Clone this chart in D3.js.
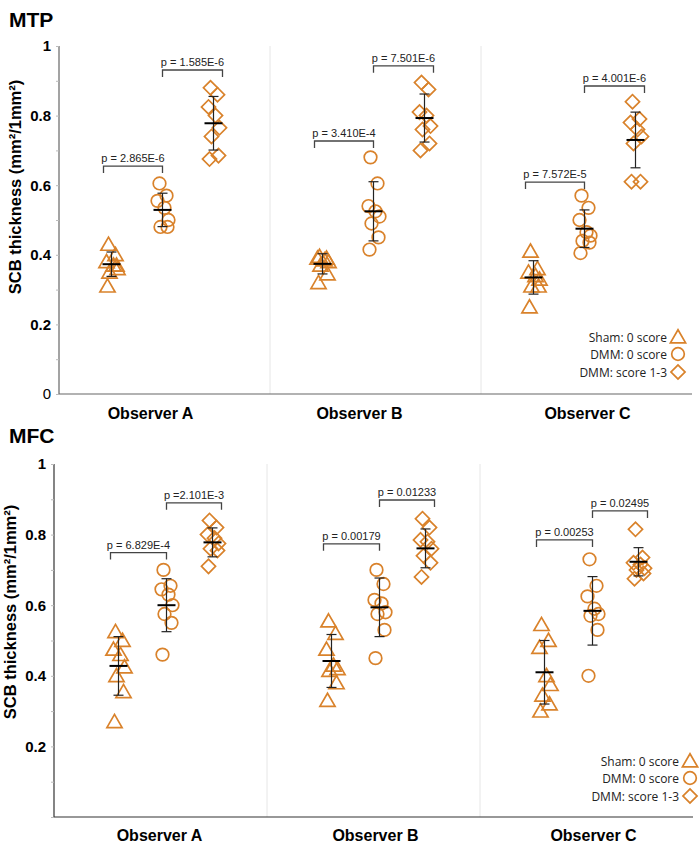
<!DOCTYPE html>
<html><head><meta charset="utf-8">
<script src="https://cdn.jsdelivr.net/npm/d3@7"></script>
<style>body{margin:0;background:#fff}</style></head>
<body>
<svg id="chart" width="699" height="852"></svg>
<script>
// ---------------- DATA ----------------
const observers = ["Observer A", "Observer B", "Observer C"];
const groups = ["Sham: 0 score", "DMM: 0 score", "DMM: score 1-3"];
const yTickValues = [0, 0.2, 0.4, 0.6, 0.8, 1];
const yMinorValues = [0.1, 0.3, 0.5, 0.7, 0.9];

// MTP: per observer, individual values
const mtpSham  = [[0.43, 0.40, 0.38, 0.37, 0.36, 0.35, 0.37, 0.31],
                  [0.395, 0.39, 0.39, 0.385, 0.38, 0.37, 0.345, 0.32],
                  [0.41, 0.36, 0.35, 0.34, 0.33, 0.31, 0.31, 0.25]];
const mtpDmm0  = [[0.605, 0.57, 0.555, 0.535, 0.50, 0.48, 0.48],
                  [0.68, 0.605, 0.54, 0.525, 0.51, 0.49, 0.45, 0.415],
                  [0.57, 0.535, 0.50, 0.465, 0.455, 0.44, 0.435, 0.405]];
const mtpDmm13 = [[0.88, 0.86, 0.825, 0.80, 0.765, 0.74, 0.685, 0.675],
                  [0.895, 0.875, 0.81, 0.80, 0.77, 0.76, 0.72, 0.70],
                  [0.84, 0.79, 0.78, 0.76, 0.74, 0.72, 0.61, 0.61]];
const mtpMean  = [[0.373, 0.529, 0.778], [0.374, 0.525, 0.793], [0.335, 0.475, 0.730]];
const mtpSd    = [[0.035, 0.048, 0.077], [0.029, 0.085, 0.069], [0.048, 0.054, 0.080]];
const mtpP     = [["p = 2.865E-6", "p = 1.585E-6"], ["p = 3.410E-4", "p = 7.501E-6"], ["p = 7.572E-5", "p = 4.001E-6"]];
const mtpBracketY = [[0.655, 0.931], [0.727, 0.943], [0.609, 0.885]];

// MFC
const mfcSham  = [[0.525, 0.50, 0.475, 0.46, 0.425, 0.40, 0.355, 0.27],
                  [0.555, 0.52, 0.475, 0.43, 0.42, 0.415, 0.38, 0.33],
                  [0.545, 0.50, 0.48, 0.40, 0.375, 0.345, 0.32, 0.30]];
const mfcDmm0  = [[0.70, 0.655, 0.645, 0.63, 0.60, 0.575, 0.55, 0.46],
                  [0.70, 0.66, 0.615, 0.605, 0.58, 0.575, 0.53, 0.45],
                  [0.73, 0.655, 0.625, 0.59, 0.575, 0.57, 0.53, 0.40]];
const mfcDmm13 = [[0.84, 0.82, 0.80, 0.79, 0.775, 0.76, 0.755, 0.71],
                  [0.845, 0.82, 0.785, 0.78, 0.76, 0.74, 0.72, 0.68],
                  [0.815, 0.735, 0.72, 0.715, 0.705, 0.70, 0.69, 0.675]];
const mfcMean  = [[0.428, 0.600, 0.778], [0.442, 0.594, 0.761], [0.410, 0.584, 0.723]];
const mfcSd    = [[0.083, 0.075, 0.041], [0.075, 0.083, 0.055], [0.090, 0.097, 0.040]];
const mfcP     = [["p = 6.829E-4", "p =2.101E-3"], ["p = 0.00179", "p = 0.01233"], ["p = 0.00253", "p = 0.02495"]];
const mfcBracketY = [[0.749, 0.890], [0.774, 0.898], [0.785, 0.867]];

// ---------------- LAYOUT / STYLE ----------------
const ORANGE = "#d9822b";
const SANS = "'Liberation Sans', Arial, sans-serif";
const UI = "'Open Sans', 'Noto Sans', sans-serif";
const jitter = [-3, 4, -5, 2, 6, -2, 5, -4];
const svg = d3.select("#chart");

const panels = [
  { title: "MTP", titleY: 27, left: 59, right: 692, top: 46, bottom: 394, groupOffsets: [-53, -2, 49],
    series: [mtpSham, mtpDmm0, mtpDmm13], mean: mtpMean, sd: mtpSd, p: mtpP, bracketY: mtpBracketY,
    showZero: true, labelX: 15, labelY: 187, obsLabelY: 419, obsLabelDx: [-14, -16, 1], axisColor: "#666",
    legendTextX: 667, legendSymX: 678, legendY: [337, 354, 372] },
  { title: "MFC", titleY: 443, left: 54, right: 693, top: 464, bottom: 817, groupOffsets: [-42, 6, 52],
    series: [mfcSham, mfcDmm0, mfcDmm13], mean: mfcMean, sd: mfcSd, p: mfcP, bracketY: mfcBracketY,
    showZero: false, labelX: 10, labelY: 612, obsLabelY: 841, obsLabelDx: [-1, 2, 7], axisColor: "#333",
    legendTextX: 679, legendSymX: 690, legendY: [761, 778, 796] }
];

const symbols = [d3.symbolTriangle, d3.symbolCircle, d3.symbolSquare];
const symbolSizes = [100, 125, 100];
const symbolRotate = [0, 0, 45];
function symbolPath(i) { return d3.symbol().type(symbols[i]).size(symbolSizes[i])(); }

panels.forEach(P => {
  const g = svg.append("g");
  const y = d3.scaleLinear().domain([0, 1]).range([P.bottom, P.top]);
  const xObs = d3.scaleBand().domain(observers).range([P.left, P.right]).padding(0);
  const gx = (oi, gi) => xObs(observers[oi]) + xObs.bandwidth() / 2 + P.groupOffsets[gi];

  // title
  g.append("text").attr("x", 9).attr("y", P.titleY).text(P.title)
    .style("font-family", SANS).style("font-weight", "bold").style("font-size", "21px").attr("fill", "#000");

  // dividers
  observers.slice(1).forEach(o => {
    g.append("line").attr("x1", xObs(o)).attr("x2", xObs(o)).attr("y1", P.top).attr("y2", P.bottom)
      .attr("stroke", "#e6e6e6").attr("stroke-width", 1);
  });

  // y axis
  const yAxis = d3.axisLeft(y).tickValues(yTickValues).tickSize(3)
    .tickFormat(d => (d === 0 && !P.showZero) ? "" : d3.format("~g")(d));
  const ya = g.append("g").attr("transform", `translate(${P.left},0)`).call(yAxis);
  ya.attr("font-family", null).attr("font-size", null);
  ya.select(".domain").attr("stroke", P.axisColor).attr("stroke-width", 1.2).attr("d", `M0,${P.top}V${P.bottom}`);
  ya.selectAll(".tick line").attr("stroke", "#bbb");
  ya.selectAll(".tick text").attr("x", -8)
    .style("font-family", SANS).style("font-size", "15px")
    .style("font-weight", d => d === 0 ? "normal" : "bold").attr("fill", "#000");
  const yMinor = d3.axisLeft(y).tickValues(yMinorValues).tickSize(3).tickFormat("");
  const ym = g.append("g").attr("transform", `translate(${P.left},0)`).call(yMinor);
  ym.select(".domain").remove();
  ym.selectAll(".tick line").attr("stroke", "#bbb");

  // x axis
  const xAxis = d3.axisBottom(xObs).tickSize(0).tickPadding(0);
  const xa = g.append("g").attr("transform", `translate(0,${P.bottom})`).call(xAxis);
  xa.attr("font-family", null).attr("font-size", null);
  xa.select(".domain").attr("stroke", P.axisColor).attr("stroke-width", 1.2).attr("d", `M${P.left},0H${P.right}`);
  xa.selectAll(".tick text").attr("y", P.obsLabelY - P.bottom).attr("dy", 0)
    .attr("x", (d, i) => P.obsLabelDx[i])
    .style("font-family", SANS).style("font-size", "16px")
    .style("font-weight", "bold").attr("fill", "#000");

  // y label
  g.append("text")
    .attr("transform", `translate(${P.labelX},${P.labelY}) rotate(-90)`)
    .attr("text-anchor", "middle").attr("dominant-baseline", "central")
    .style("font-family", SANS).style("font-size", "16.5px").style("font-weight", "bold")
    .text("SCB thickness (mm²/1mm²)");

  // points
  P.series.forEach((ser, gi) => {
    ser.forEach((vals, oi) => {
      g.append("g").selectAll("path").data(vals).join("path")
        .attr("d", symbolPath(gi))
        .attr("transform", (d, k) => `translate(${gx(oi, gi) + jitter[k % jitter.length]},${y(d) + (gi === 0 ? 1.5 : 0)}) rotate(${symbolRotate[gi]})`)
        .attr("fill", "none").attr("stroke", ORANGE).attr("stroke-width", 1.7);
    });
  });

  // mean + sd
  P.mean.forEach((ms, oi) => {
    ms.forEach((m, gi) => {
      const cx = gx(oi, gi), s = P.sd[oi][gi];
      g.append("line").attr("x1", cx).attr("x2", cx).attr("y1", y(m + s)).attr("y2", y(m - s)).attr("stroke", "#222").attr("stroke-width", 1.2);
      [m + s, m - s].forEach(v => g.append("line").attr("x1", cx - 5).attr("x2", cx + 5).attr("y1", y(v)).attr("y2", y(v)).attr("stroke", "#222").attr("stroke-width", 1.2));
      g.append("line").attr("x1", cx - 9).attr("x2", cx + 9).attr("y1", y(m)).attr("y2", y(m)).attr("stroke", "#000").attr("stroke-width", 2);
    });
  });

  // brackets
  P.bracketY.forEach((bys, oi) => {
    bys.forEach((bv, bi) => {
      const x1 = bi === 0 ? gx(oi, 0) - 8 : gx(oi, 1);
      const x2 = bi === 0 ? gx(oi, 1) : gx(oi, 2) + 9;
      const by = y(bv);
      g.append("path").attr("d", `M${x1},${by + 7}V${by}H${x2}V${by + 7}`)
        .attr("fill", "none").attr("stroke", "#444").attr("stroke-width", 1.3);
      g.append("text").attr("x", (x1 + x2) / 2).attr("y", by - 4).attr("text-anchor", "middle")
        .style("font-family", SANS).style("font-size", "11px").attr("fill", "#222")
        .text(P.p[oi][bi]);
    });
  });

  // legend
  groups.forEach((name, gi) => {
    const ly = P.legendY[gi];
    g.append("text").attr("x", P.legendTextX).attr("y", ly).attr("text-anchor", "end").attr("dominant-baseline", "central")
      .style("font-family", UI).style("font-size", "12px").attr("fill", "#222").text(name);
    g.append("path").attr("d", symbolPath(gi))
      .attr("transform", `translate(${P.legendSymX},${ly + (gi === 0 ? 1.5 : 0)}) rotate(${symbolRotate[gi]})`)
      .attr("fill", "none").attr("stroke", ORANGE).attr("stroke-width", 1.7);
  });
});
</script>
</body></html>
